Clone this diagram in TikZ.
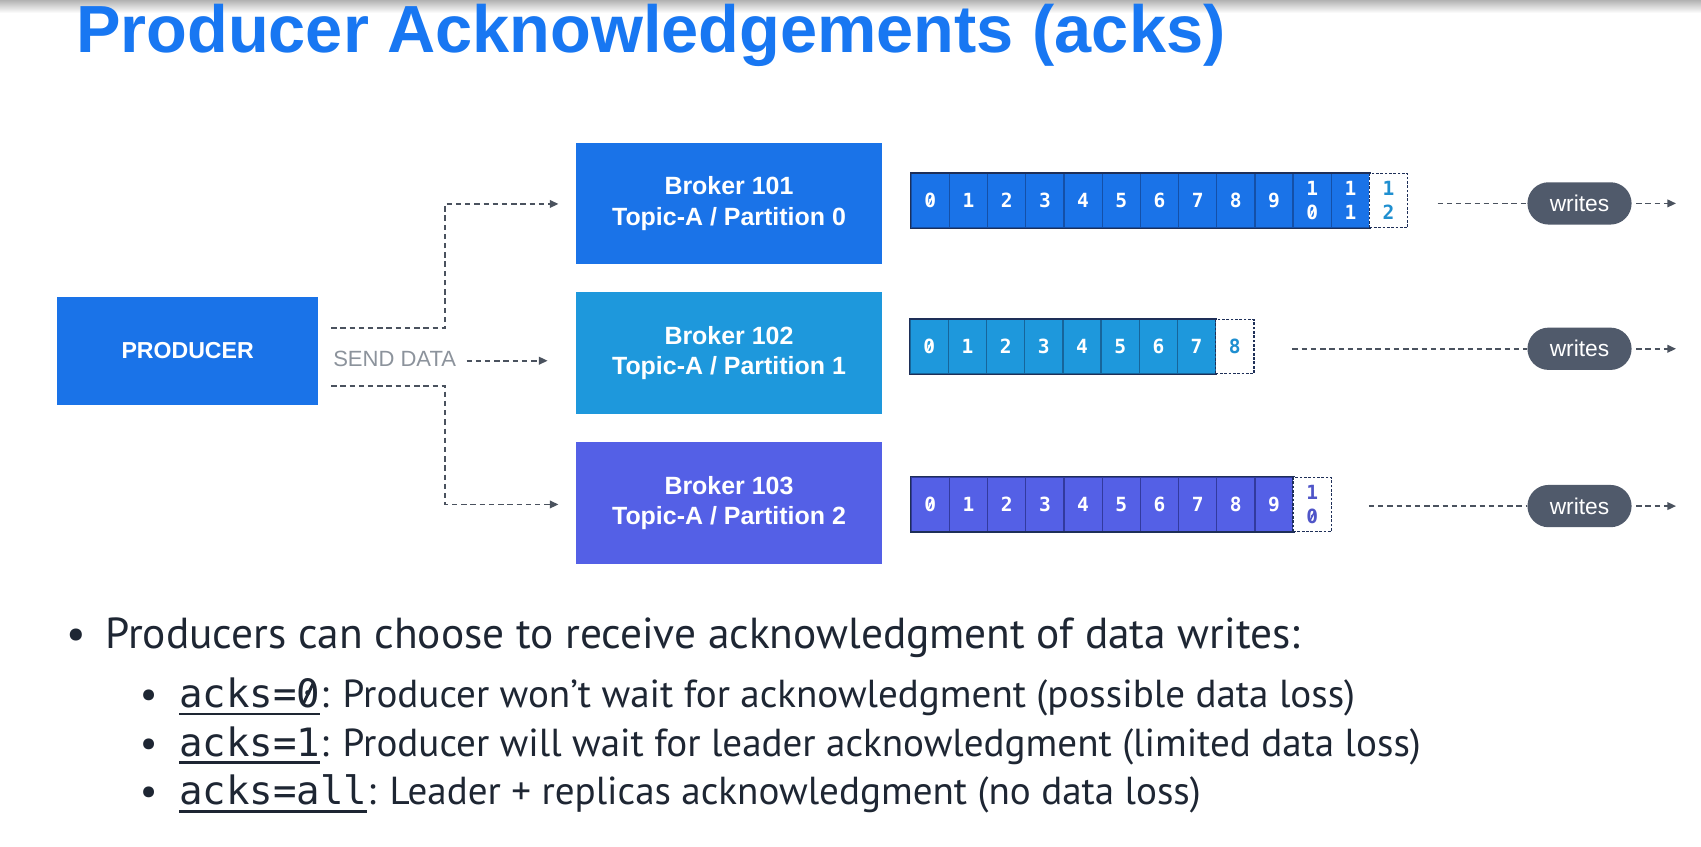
\documentclass[tikz,border=0pt]{standalone}
\usepackage{fontspec}
\usepackage{graphicx}
\setmainfont{Liberation Sans}
\newfontfamily\bodyfam{PT Sans}
\newfontfamily\cellmono{DejaVu Sans Mono}
\usetikzlibrary{arrows.meta}
\definecolor{titleblue}{HTML}{1877F2}
\definecolor{bA}{HTML}{1A73E8}
\definecolor{bAd}{HTML}{1450A8}
\definecolor{bB}{HTML}{1E98DC}
\definecolor{bBd}{HTML}{17659A}
\definecolor{bC}{HTML}{5460E6}
\definecolor{bCd}{HTML}{323A9E}
\definecolor{navy}{HTML}{1E2F58}
\definecolor{txtB}{HTML}{1F8FD0}
\definecolor{txtC}{HTML}{4F55C8}
\definecolor{arrowgray}{HTML}{4A525E}
\definecolor{sendgray}{HTML}{8C939C}
\definecolor{pillgray}{HTML}{505A6B}
\definecolor{bodyc}{HTML}{1E2633}
\newcommand\sz{\ooalign{0\cr\hidewidth\raisebox{0.08em}{\rotatebox{64}{\rule{0.6em}{0.075em}}}\hidewidth\cr}}
\newcommand\cd[1]{\ifnum#1=0 \sz\else #1\fi}
\newcommand\boxfont{\bfseries\fontsize{23}{28}\selectfont}
\newcommand\cellfont{\cellmono\bfseries\fontsize{18}{22}\selectfont}
\newcommand\bodyfnt{\bodyfam\fontsize{36}{44}\selectfont}
\newcommand\ackul[1]{\setbox0\hbox{\cellmono\fontsize{36}{44}\selectfont #1}\rlap{\rule[-7pt]{\wd0}{2.2pt}}\box0}
\tikzset{
  conn/.style={draw=arrowgray, line width=1.6pt, dash pattern=on 5pt off 3.5pt, -{Triangle[length=8pt,width=7pt]}},
  dline/.style={draw=arrowgray, line width=1.6pt, dash pattern=on 5pt off 3.5pt},
  bigbox/.style={minimum width=282pt, minimum height=112pt, inner sep=0, text=white, font=\boxfont, align=center},
  cellbase/.style={minimum width=35.2pt, minimum height=50pt, inner sep=0, font=\cellfont, align=center, line width=1.2pt},
  cellA/.style={cellbase, fill=bA, draw=bAd, text=white},
  cellB/.style={cellbase, fill=bB, draw=bBd, text=white},
  cellC/.style={cellbase, fill=bC, draw=bCd, text=white},
  opencell/.style={cellbase, fill=white, draw=navy, dash pattern=on 2.5pt off 1.5pt},
  outer/.style={draw=navy, line width=1.4pt},
  pill/.style={fill=pillgray, rounded corners=19.5pt, minimum width=96pt, minimum height=39pt, inner sep=0, text=white, font=\fontsize{21}{21}\selectfont},
  body/.style={inner sep=0, text=bodyc, font=\bodyfnt},
}
\begin{document}
\begin{tikzpicture}[x=1pt,y=-1pt]
\useasboundingbox (0,0) rectangle (1568,780);
\fill[white] (0,0) rectangle (1568,780);
\shade[top color=black!30, bottom color=white] (0,0) rectangle (1568,12);

% title
\node[anchor=base west, inner sep=0, text=titleblue, font=\bfseries\fontsize{61.5}{61.5}\selectfont] (title) at (70,48) {Producer Acknowledgements (acks)};

% producer
\node[fill=bA, minimum width=240pt, minimum height=99pt, inner sep=0, text=white, font=\bfseries\fontsize{21.3}{21.3}\selectfont] (prod) at (173,323.5) {PRODUCER};

% brokers
\node[bigbox, fill=bA] (b1) at (672,187.5) {Broker 101\\Topic-A / Partition 0};
\node[bigbox, fill=bB, minimum height=113pt] (b2) at (672,325.5) {Broker 102\\Topic-A / Partition 1};
\node[bigbox, fill=bC, minimum height=113pt] (b3) at (672,463.5) {Broker 103\\Topic-A / Partition 2};

% send data
\node[anchor=base west, inner sep=0, text=sendgray, font=\fontsize{20.3}{20.3}\selectfont] (send) at (307,338) {SEND DATA};
\draw[conn, shorten >=16pt] ([xshift=12pt,yshift=21pt]prod.east) -- ++(105,0) |- ([yshift=-0.5pt]b1.west);
\draw[conn, shorten >=26pt] ([xshift=9.5pt,yshift=-1.5pt]send.east) -- ([yshift=-1.5pt]send.east -| b2.west);
\draw[conn, shorten >=16pt] ([xshift=12pt,yshift=-32pt]prod.east) -- ++(105,0) |- ([yshift=-1.5pt]b3.west);

% partition 0
\foreach \i in {0,...,9} { \node[cellA] (r1c\i) at ({840+35.2*(\i+0.5)},185) {\cd{\i}}; }
\node[cellA] (r1c10) at ({840+35.2*10.5},185) {1\\\sz};
\node[cellA] (r1c11) at ({840+35.2*11.5},185) {1\\1};
\draw[outer] (r1c0.north west) rectangle (r1c11.south east);
\node[opencell, text=txtB] (r1c12) at ({840+35.2*12.5},185) {1\\2};

% partition 1
\foreach \i in {0,...,7} { \node[cellB] (r2c\i) at ({839+35.2*(\i+0.5)},319.5) {\cd{\i}}; }
\draw[outer] (r2c0.north west) rectangle (r2c7.south east);
\node[opencell, text=txtB] (r2c8) at ({839+35.2*8.5},319.5) {8};

% partition 2
\foreach \i in {0,...,9} { \node[cellC] (r3c\i) at ({840+35.2*(\i+0.5)},465) {\cd{\i}}; }
\draw[outer] (r3c0.north west) rectangle (r3c9.south east);
\node[opencell, text=txtC] (r3c10) at ({840+35.2*10.5},465) {1\\\sz};

% writes
\node[pill] (w1) at (1456,187.5) {writes};
\node[pill] (w2) at (1456,321.5) {writes};
\node[pill] (w3) at (1456,466.5) {writes};
\coordinate (o1) at (1545,187.5);
\coordinate (o2) at (1545,321.5);
\coordinate (o3) at (1545,466.5);
\draw[dline] ([xshift=27pt]r1c12.east |- w1.west) -- (w1.west);
\draw[dline] ([xshift=35pt]r2c8.east |- w2.west) -- (w2.west);
\draw[dline] ([xshift=34pt]r3c10.east |- w3.west) -- (w3.west);
\draw[conn] ([xshift=4pt]w1.east) -- (o1);
\draw[conn] ([xshift=4pt]w2.east) -- (o2);
\draw[conn] ([xshift=4pt]w3.east) -- (o3);

% bullets
\node[body, anchor=base, font=\bodyfam\fontsize{40}{44}\selectfont] (d1) at (70,598) {•};
\node[body, anchor=base west, font=\bodyfam\fontsize{40}{44}\selectfont] (l1) at (97,598) {Producers can choose to receive acknowledgment of data writes:};
\node[body, anchor=base] (d2) at (137,652) {•};
\node[body, anchor=base west] (l2) at (165,652) {\ackul{acks=\sz}: Producer won’t wait for acknowledgment (possible data loss)};
\node[body, anchor=base] (d3) at (137,697) {•};
\node[body, anchor=base west] (l3) at (165,697) {\ackul{acks=1}: Producer will wait for leader acknowledgment (limited data loss)};
\node[body, anchor=base] (d4) at (137,742) {•};
\node[body, anchor=base west] (l4) at (165,742) {\ackul{acks=all}: Leader + replicas acknowledgment (no data loss)};
\end{tikzpicture}
\end{document}
